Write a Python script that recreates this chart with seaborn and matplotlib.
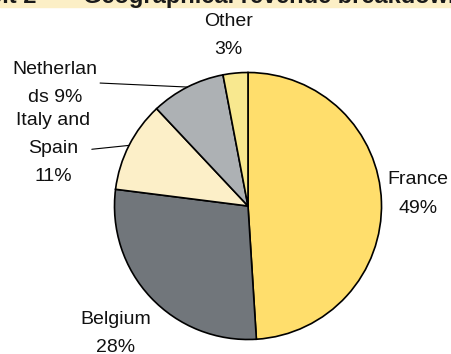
import numpy as np
import matplotlib
matplotlib.use("Agg")
import matplotlib.pyplot as plt
import seaborn as sns

# Revenue share by geography (%)
regions = ["France", "Belgium", "Italy and Spain", "Netherlands", "Other"]
shares = [49, 28, 11, 9, 3]
label_texts = ["France\n49%", "Belgium\n28%", "Italy and\nSpain\n11%", "Netherlan\nds 9%", "Other\n3%"]
slice_colors = ["#FFDE6C", "#71767B", "#FCEFC8", "#ADB1B4", "#F8E88F"]

sns.set_theme(style="white")
plt.rcParams["font.family"] = ["Liberation Sans", "DejaVu Sans"]

W, H = 451, 354
fig = plt.figure(figsize=(W / 100, H / 100), dpi=100)
fig.patch.set_facecolor("white")

# Title band along the top edge
band_h = 7
fig.patches.append(plt.Rectangle((0, 1 - band_h / H), 1, band_h / H,
                                 transform=fig.transFigure, color="#FCEFC6", zorder=0))
fig.text(37 / W, 1 - 3 / H, "Exhibit 2", ha="right", va="baseline",
         fontsize=17, fontweight="bold", color="#1a1a1a")
fig.text(83 / W, 1 - 3 / H, "Geographical revenue breakdown", ha="left", va="baseline",
         fontsize=17, fontweight="bold", color="#1a1a1a")

# Pie axes
cx, cy, r = 248, 206, 133.5
ax = fig.add_axes([(cx - r) / W, (H - cy - r) / H, 2 * r / W, 2 * r / H])
palette = sns.color_palette(slice_colors)
wedges, _ = ax.pie(shares, colors=palette, startangle=90, counterclock=False,
                   radius=1, wedgeprops=dict(edgecolor="black", linewidth=1.2))
ax.set_xlim(-1, 1)
ax.set_ylim(-1, 1)
ax.set_aspect("equal")
ax.axis("off")

# Label placement (data units of the pie axes)
label_pos = {
    "France": (1.275, 0.09),
    "Belgium": (-0.99, -0.955),
    "Italy and Spain": (-1.46, 0.43),
    "Netherlands": (-1.445, 0.92),
    "Other": (-0.146, 1.28),
}
for name, txt in zip(regions, label_texts):
    x, y = label_pos[name]
    ax.text(x, y, txt, ha="center", va="center", fontsize=14,
            linespacing=1.85, color="#111111", clip_on=False)

# Leader lines from label to the middle of the slice rim
leader_start = {"Italy and Spain": (-1.17, 0.425), "Netherlands": (-1.108, 0.921)}
for name, w in zip(regions, wedges):
    if name in leader_start:
        mid = np.deg2rad((w.theta1 + w.theta2) / 2)
        ex, ey = np.cos(mid), np.sin(mid)
        sx, sy = leader_start[name]
        ax.plot([sx, ex], [sy, ey], color="black", linewidth=0.8, clip_on=False)

fig.savefig("out.png", dpi=100)
